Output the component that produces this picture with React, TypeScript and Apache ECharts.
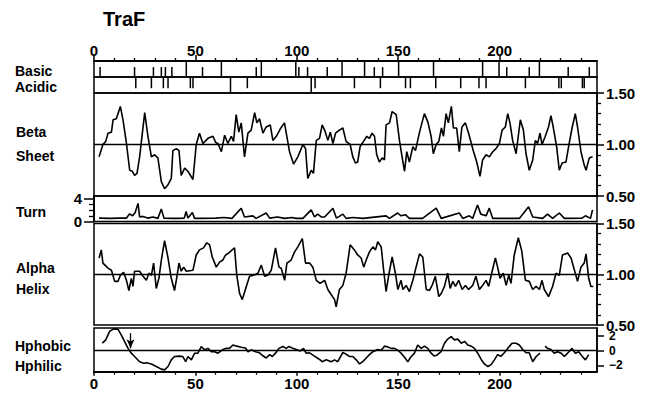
import React, { useEffect, useRef } from "react";
import * as echarts from "echarts";

// ---------- data (residue position, value) ----------
const basicShort = [3, 20, 29.3, 33.2, 35.2, 38.4, 53.5, 80, 101, 105.3, 115, 138.2, 142.3, 203.5, 214.6, 233.8, 244.2];
const basicTall = [45.5, 62.8, 82.5, 99.5, 122.3, 133.4, 150.2, 167.4, 191.6, 199.7, 219.6];
const acidicShort = [20.6, 28.3, 34.2, 36.5, 47.5, 48.8, 75.6, 109, 128.4, 141.2, 153.6, 156, 168.5, 180.8, 189.8, 193.3, 212.7, 229.2, 230.4, 240.8, 241.7];
const acidicTall = [67.3, 107.1];

const betaSheet = [
  [2.5, 0.88], [4.4, 1.0], [5.8, 1.03], [6.9, 1.11], [8.6, 1.12], [9.4, 1.24], [11, 1.25], [13, 1.37], [14.3, 1.24], [16, 1.01],
  [17.6, 0.75], [18.9, 0.74], [20, 0.7], [21.2, 0.72], [22.5, 0.88], [25, 1.31], [26.6, 1.08], [28.3, 0.88], [29.9, 0.9], [31.5, 0.87],
  [33.2, 0.64], [34.8, 0.57], [36.5, 0.61], [38.1, 0.67], [38.9, 0.94], [40.6, 0.96], [41.9, 0.94], [43, 0.7], [44.7, 0.77], [46.3, 0.74],
  [48.8, 0.66], [50.4, 1.0], [52, 1.11], [53.7, 1.01], [56.2, 1.06], [58.6, 1.08], [60, 1.02], [61.1, 1.01], [62.8, 0.93], [64.4, 1.09],
  [66, 1.01], [67.7, 1.08], [68.8, 1.03], [70.1, 1.29], [71.4, 1.12], [72.6, 1.21], [74.2, 0.88], [75.9, 1.11], [77.5, 1.14], [79.2, 1.31],
  [80.3, 1.21], [81.6, 1.25], [83.3, 1.11], [84.9, 1.17], [86.9, 1.19], [88.2, 1.04], [89.9, 1.08], [91.8, 1.15], [93.9, 1.21], [96.4, 0.93],
  [98.4, 0.81], [100.5, 0.88], [103, 1.0], [104.3, 0.96], [105.4, 0.67], [107.1, 0.75], [108.2, 0.72], [109.6, 1.04], [111.2, 1.06], [112.5, 1.19],
  [113.7, 1.14], [115.3, 1.04], [116.5, 1.12], [117.8, 1.01], [119.1, 1.11], [121, 1.14], [122.7, 1.16], [124.3, 1.03], [126.3, 1.0], [127.6, 0.88],
  [128.9, 0.82], [130, 0.83], [131.2, 0.98], [132.9, 1.03], [134.5, 1.08], [135.8, 1.06], [137.1, 1.11], [138.3, 1.08], [139.4, 0.9], [140.7, 0.83],
  [142.1, 0.87], [143.2, 0.85], [144, 1.19], [145.7, 1.21], [147, 1.32], [149, 1.29], [150.6, 1.04], [151.9, 0.88], [153.1, 0.74], [154.2, 0.93],
  [155.5, 0.83], [157.2, 0.98], [158.5, 0.94], [160.5, 1.12], [162.9, 1.3], [164.6, 1.22], [166.2, 1.08], [167.3, 0.91], [168.7, 1.0], [170, 1.03],
  [171.3, 1.16], [172.3, 1.08], [173.6, 1.3], [174.7, 1.21], [176.2, 1.37], [177.2, 1.16], [178.8, 1.16], [180.1, 0.93], [181.4, 1.17], [183.1, 1.21],
  [184.7, 1.11], [187, 0.94], [188.7, 0.83], [190.3, 0.69], [191.6, 0.85], [193.3, 0.9], [194.9, 0.88], [196.6, 0.93], [198.2, 0.96], [199.9, 1.01],
  [201.2, 1.14], [202.8, 1.17], [204, 1.3], [205.1, 1.21], [206.4, 1.04], [208.1, 0.91], [210.2, 1.24], [211.7, 1.14], [213, 0.91], [214.6, 0.75],
  [216.3, 0.85], [217.6, 1.04], [218.7, 1.01], [219.9, 1.11], [220.9, 1.0], [222.5, 1.08], [224.1, 1.17], [225.3, 1.28], [226.5, 1.16], [228.1, 0.98],
  [229.4, 0.75], [230.8, 0.82], [232.7, 0.83], [234, 0.98], [235.7, 1.16], [237.3, 1.3], [238.4, 1.17], [240.1, 0.93], [241.7, 0.8], [242.6, 0.75],
  [244.2, 0.87], [245.8, 0.88],
];

const turn = [
  [2.5, 0.6], [8, 0.55], [12, 0.6], [16, 0.6], [17.6, 1.35], [19, 1.0], [20.3, 1.6], [21.7, 3.2], [22.5, 0.8], [24, 0.9],
  [26.6, 0.6], [29, 0.8], [31.5, 0.55], [33.2, 2.2], [34.5, 0.6], [40, 0.55], [44.5, 0.6], [45.4, 1.75], [46.3, 0.6], [48.5, 1.6],
  [49.6, 0.55], [60, 0.6], [64, 0.7], [68, 0.55], [72.6, 2.35], [74.2, 0.8], [78.3, 1.0], [79.9, 0.55], [84.9, 1.5], [86.6, 0.6],
  [90.5, 0.8], [93.9, 0.55], [97.7, 0.7], [99.5, 0.55], [103, 0.55], [107.1, 2.05], [108.7, 0.8], [110.3, 1.3], [112, 0.8], [113.7, 0.8],
  [117.8, 2.35], [119.5, 0.6], [122.7, 1.3], [124.3, 0.55], [127.6, 0.7], [132.5, 0.55], [144, 1.0], [145.7, 0.55], [149.7, 1.5], [151.4, 1.0],
  [153.5, 1.2], [155.5, 0.55], [162, 0.55], [168.7, 2.35], [171.2, 0.55], [180.1, 1.5], [181.8, 0.55], [185, 1.0], [186.7, 0.55], [189.1, 2.9],
  [190.7, 1.3], [193.3, 1.0], [194.9, 2.35], [196.6, 0.55], [209.7, 0.55], [214.3, 2.6], [216.3, 0.8], [221.2, 0.55], [223.6, 1.3], [226.1, 0.55],
  [229.4, 1.5], [231.9, 0.55], [240.6, 0.6], [242.3, 1.0], [244.8, 0.55], [245.8, 2.05],
];

const alphaHelix = [
  [2.5, 1.16], [3.6, 1.24], [4.4, 1.11], [6.9, 1.06], [8.6, 1.04], [10.2, 0.93], [11.8, 0.93], [13, 0.99], [14.6, 1.02], [16, 0.94],
  [17.2, 0.84], [18.4, 0.96], [19.2, 0.88], [20, 1.03], [22.5, 1.03], [23.8, 0.99], [25.8, 0.94], [27.1, 1.01], [28.3, 0.99], [29.4, 1.11],
  [30.7, 0.86], [32, 0.96], [33.2, 1.14], [34.8, 1.33], [36.5, 1.16], [38.1, 0.96], [39.7, 0.84], [40.9, 0.98], [41.9, 1.11], [43, 1.03],
  [44.2, 1.07], [45.5, 1.03], [48.8, 1.04], [50.4, 1.19], [52, 1.24], [54, 1.26], [55.6, 1.31], [57, 1.29], [58.3, 1.17], [60.3, 1.07],
  [61.9, 1.12], [63.5, 1.14], [64.9, 1.19], [66.5, 1.21], [68.1, 1.24], [69.3, 1.26], [70.4, 0.99], [71.8, 0.81], [73.1, 0.75], [75.1, 0.88],
  [76.7, 0.98], [78.7, 0.99], [80.8, 1.01], [82.5, 1.09], [84.1, 0.98], [85.7, 0.99], [87.4, 1.04], [89.5, 1.26], [91.2, 1.07], [92.3, 1.06],
  [94, 0.94], [95.1, 1.11], [97.2, 1.14], [98.9, 1.22], [100.5, 1.27], [102.7, 1.35], [104.3, 1.11], [106.3, 1.11], [107.9, 1.07], [109.6, 0.94],
  [111.5, 0.91], [113.7, 0.94], [115.3, 0.85], [116.9, 0.8], [118.6, 0.75], [119.4, 0.68], [121, 0.85], [122.7, 0.89], [124.3, 1.01], [126.3, 1.29],
  [128.4, 1.24], [130, 1.19], [131.7, 1.16], [133, 1.07], [134.2, 1.14], [135.8, 1.22], [137.5, 1.27], [138.8, 1.24], [139.9, 1.32], [141.6, 1.27],
  [142.7, 1.06], [144, 0.83], [145.3, 0.99], [147, 1.17], [148.6, 1.01], [149.8, 0.85], [151.4, 0.94], [152.3, 0.85], [153.9, 0.89], [155.5, 0.83],
  [157.2, 0.94], [158.8, 1.07], [160.5, 1.2], [162.1, 1.17], [163.8, 0.85], [165.4, 0.84], [166.7, 0.89], [168.3, 0.98], [170, 0.78], [171.2, 0.81],
  [172.8, 0.88], [174.4, 1.01], [175.6, 0.86], [176.9, 0.93], [178.2, 0.88], [179.8, 0.94], [181.5, 0.85], [183.1, 0.89], [184.7, 0.85], [186.7, 0.89],
  [188.3, 0.98], [190, 0.85], [191.6, 0.89], [193.3, 0.94], [194.6, 0.88], [196.3, 1.03], [197.9, 1.16], [199, 1.07], [200.2, 0.96], [201.8, 1.01],
  [203.2, 0.89], [204.5, 0.99], [205.6, 0.91], [207.2, 1.19], [209.2, 1.36], [210.9, 1.23], [212.7, 0.94], [214.6, 0.93], [216.3, 0.85], [218, 0.88],
  [219.6, 0.85], [220.9, 0.94], [222, 0.85], [224.1, 0.78], [226.1, 0.88], [227.8, 1.01], [229.4, 0.99], [231, 1.19], [233.5, 1.21], [235.2, 1.16],
  [237.3, 1.01], [238.4, 0.93], [240.1, 1.07], [241.7, 1.11], [242.6, 1.2], [243.9, 0.96], [245, 0.88], [246.2, 0.88],
];

const hydropathy = [
  [4.1, 1.0], [5.8, 1.45], [7.7, 2.6], [9.4, 2.9], [11.8, 2.9], [13.5, 2.1], [15.1, 1.2], [16.8, 0.3], [18.4, -0.35], [20, -0.8],
  [22.5, -1.5], [24.5, -1.7], [25.8, -1.65], [28.3, -1.8], [30.7, -2.15], [33.2, -2.5], [34.8, -2.6], [36.5, -2.15], [38.1, -1.25], [39.7, -0.8],
  [42.2, -0.75], [43.8, -0.8], [45.2, -1.5], [46.3, -0.8], [48, -1.25], [49.6, -0.35], [51.2, -0.35], [52.9, 0.55], [54.5, 0.1], [56.2, 0.3],
  [57.8, -0.15], [59.5, -0.15], [61.1, -0.35], [63.3, 0.1], [65.2, 0.3], [66.8, 0.3], [68.5, 0.75], [70.4, 0.6], [72.6, 0.45], [74.7, 0.35],
  [75.9, -0.15], [77.5, 0.1], [79.7, -0.15], [81.6, -0.3], [83.3, -0.7], [84.9, -1.0], [86.6, -0.55], [87.9, -0.8], [89.5, -0.35], [91.2, 0.3],
  [93.1, 0.55], [94.8, 0.3], [96.1, 0.55], [98.1, 0.3], [99.7, 0.15], [101.7, -0.05], [103.3, 0.3], [104.6, -0.35], [106.3, -0.3], [108.7, -0.75],
  [111.2, -1.2], [112.5, -1.5], [114.5, -1.25], [116.9, -1.5], [118.6, -1.25], [120.2, -1.5], [121.4, -0.9], [122.7, -0.25], [124, -0.45], [126, -0.8],
  [127.6, -0.8], [129.3, -1.25], [130.9, -1.8], [132.5, -1.5], [134.2, -1.0], [135.8, -0.55], [137.5, -0.15], [139.9, 0.15], [141.6, 0.05], [143.2, 0.6],
  [144.8, 0.5], [146.6, 0.3], [148.2, 0.3], [149.8, 0.05], [151.4, -0.35], [153.1, -0.9], [154.7, -1.5], [156.4, -0.8], [158, -0.35], [159.6, 0.75],
  [161.3, 0.3], [162.9, 0.6], [164.6, 0.3], [166.2, -0.35], [167.8, -0.75], [169.4, -0.55], [171.1, -0.15], [172.8, 1.0], [174.4, 1.55], [176.1, 1.9],
  [177.7, 1.45], [179.4, 1.55], [181.1, 1.0], [182.7, 1.25], [184.3, 0.75], [186, 0.6], [187.6, 0.3], [189.2, -0.35], [190.9, -1.2], [192.5, -1.8],
  [194.2, -2.15], [195.8, -1.9], [197.4, -1.25], [199, -0.55], [200.7, -0.75], [202.3, -0.3], [204, 0.3], [206.1, 1.0], [208.1, 1.0], [209.7, 0.75],
  [211.4, 0.15], [213, -0.3], [214.6, -0.3], [216.3, -1.5], [218, -0.8], [219.9, -0.35], [221, null], [222.4, 0.6], [223.6, 0.3], [225.3, 0.15],
  [226.9, -0.35], [228.6, -0.15], [230.3, -0.35], [231.9, -0.8], [233.5, -0.35], [235.7, 0.3], [237.3, -0.35], [239, -0.15], [240.6, -0.75], [242.3, -1.25],
  [243.9, -0.55],
];

const arrowAt = 18;

const xLabels = [0, 50, 100, 150, 200];
const xMinorTicks = [10, 20, 30, 40, 60, 70, 80, 90, 110, 120, 130, 140, 160, 170, 180, 190, 210, 220, 230, 240];
const turnLabels = [0, 4];
const turnMinorTicks = [1, 2, 3];
const hydroLabels = [-2, 0, 2];

const FONT = '"Liberation Sans", Arial, Helvetica, sans-serif';
const BLACK = "#000";

export default function App() {
  const ref = useRef<HTMLDivElement>(null);

  useEffect(() => {
    if (!ref.current) return;
    const chart = echarts.init(ref.current, undefined, { renderer: "svg" });

    const L = 94;
    const W = 503;
    const XMAX = 248;
    const gridBase = {
      left: L, width: W, show: true, borderColor: BLACK, borderWidth: 1.5, backgroundColor: "transparent",
    };
    const grids = [
      { ...gridBase, top: 61, height: 16 },
      { ...gridBase, top: 77, height: 16 },
      { ...gridBase, top: 93, height: 103 },
      { ...gridBase, top: 196, height: 25.5 },
      { ...gridBase, top: 223.5, height: 101.5 },
      { ...gridBase, top: 328, height: 43.7 },
    ];

    const hiddenX = (gi: number) => ({ type: "value", gridIndex: gi, min: 0, max: XMAX, show: false });
    const axLine = { show: true, onZero: false, lineStyle: { color: BLACK, width: 1.5 } };
    const labelStyle = { color: BLACK, fontFamily: FONT, fontWeight: "bold", fontSize: 15 };

    const xAxes = [
      {
        type: "value", gridIndex: 0, min: 0, max: XMAX, position: "top",
        axisLine: axLine,
        axisTick: { show: true, inside: false, length: 6, customValues: xLabels, lineStyle: { color: BLACK, width: 1.5 } },
        axisLabel: { show: true, customValues: xLabels, margin: 3, ...labelStyle },
        splitLine: { show: false },
      },
      {
        type: "value", gridIndex: 0, min: 0, max: XMAX, position: "top",
        axisLine: axLine,
        axisTick: { show: true, inside: false, length: 3, customValues: xMinorTicks, lineStyle: { color: BLACK, width: 1.3 } },
        axisLabel: { show: false },
        splitLine: { show: false },
      },
      hiddenX(1),
      hiddenX(2),
      hiddenX(3),
      hiddenX(4),
      {
        type: "value", gridIndex: 5, min: 0, max: XMAX, position: "bottom",
        axisLine: axLine,
        axisTick: { show: true, inside: false, length: 4, customValues: xLabels, lineStyle: { color: BLACK, width: 1.5 } },
        axisLabel: { show: true, customValues: xLabels, margin: 4, ...labelStyle },
        splitLine: { show: false },
      },
      {
        type: "value", gridIndex: 5, min: 0, max: XMAX, position: "bottom",
        axisLine: axLine,
        axisTick: { show: true, inside: false, length: 3, customValues: xMinorTicks, lineStyle: { color: BLACK, width: 1.3 } },
        axisLabel: { show: false },
        splitLine: { show: false },
      },
    ];

    const propensityAxis = (gi: number) => ({
      type: "value", gridIndex: gi, position: "right", min: 0.5, max: 1.5, interval: 0.5,
      axisLine: axLine,
      axisTick: { show: true, inside: false, length: 7, lineStyle: { color: BLACK, width: 1.5 } },
      minorTick: { show: true, splitNumber: 5, length: 4, lineStyle: { color: BLACK, width: 1.3 } },
      axisLabel: { show: true, margin: 9, lineHeight: 12, formatter: (v: number) => v.toFixed(2), ...labelStyle },
      splitLine: { show: false },
      minorSplitLine: { show: false },
    });

    const yAxes = [
      { type: "value", gridIndex: 0, min: 0, max: 1, show: false },
      { type: "value", gridIndex: 1, min: 0, max: 1, inverse: true, show: false },
      propensityAxis(2),
      {
        type: "value", gridIndex: 3, position: "left", min: 0, max: 4.5,
        axisLine: axLine,
        axisTick: { show: true, inside: false, length: 10, customValues: turnLabels, lineStyle: { color: BLACK, width: 1.5 } },
        axisLabel: { show: true, customValues: turnLabels, margin: 12, lineHeight: 12, ...labelStyle },
        splitLine: { show: false },
      },
      {
        type: "value", gridIndex: 3, position: "left", min: 0, max: 4.5,
        axisLine: axLine,
        axisTick: { show: true, inside: false, length: 5, customValues: turnMinorTicks, lineStyle: { color: BLACK, width: 1.3 } },
        axisLabel: { show: false },
        splitLine: { show: false },
      },
      propensityAxis(4),
      {
        type: "value", gridIndex: 5, position: "right", min: -2.85, max: 3.05,
        axisLine: axLine,
        axisTick: { show: true, inside: false, length: 7, customValues: hydroLabels, lineStyle: { color: BLACK, width: 1.5 } },
        axisLabel: {
          show: true, customValues: hydroLabels, margin: 12, ...labelStyle, fontSize: 12, lineHeight: 10,
          formatter: (v: number) => (v < 0 ? "\u2212" + Math.abs(v) : String(v)),
        },
        splitLine: { show: false },
      },
    ];

    const tickRenderer = (params: any, api: any) => {
      const x = api.value(0);
      const len = api.value(1);
      const p0 = api.coord([x, 0]);
      const p1 = api.coord([x, len]);
      return {
        type: "line",
        shape: { x1: p0[0], y1: p0[1], x2: p1[0], y2: p1[1] },
        style: { stroke: BLACK, lineWidth: 1.5 },
      };
    };

    const basicData = [...basicShort.map((p) => [p, 0.62]), ...basicTall.map((p) => [p, 1])];
    const acidicData = [...acidicShort.map((p) => [p, 0.7]), ...acidicTall.map((p) => [p, 1])];

    const lineStyle = { color: BLACK, width: 1.6 };
    const refLine = (v: number) => ({
      silent: true, symbol: ["none", "none"], label: { show: false },
      lineStyle: { color: BLACK, width: 1.3, type: "solid" },
      data: [{ yAxis: v }],
    });

    const series: any[] = [
      { type: "custom", xAxisIndex: 0, yAxisIndex: 0, data: basicData, renderItem: tickRenderer, silent: true },
      { type: "custom", xAxisIndex: 2, yAxisIndex: 1, data: acidicData, renderItem: tickRenderer, silent: true },
      {
        type: "line", xAxisIndex: 3, yAxisIndex: 2, data: betaSheet, showSymbol: false, symbol: "none",
        lineStyle, markLine: refLine(1),
      },
      { type: "line", xAxisIndex: 4, yAxisIndex: 3, data: turn, showSymbol: false, symbol: "none", lineStyle },
      {
        type: "line", xAxisIndex: 5, yAxisIndex: 5, data: alphaHelix, showSymbol: false, symbol: "none",
        lineStyle, markLine: refLine(1),
      },
      {
        type: "line", xAxisIndex: 6, yAxisIndex: 6,
        data: hydropathy.map((d) => (d[1] === null ? [d[0], "-"] : d)),
        showSymbol: false, symbol: "none", connectNulls: false, lineStyle,
        markLine: {
          silent: true, symbol: ["none", "none"], label: { show: false },
          lineStyle: { color: BLACK, width: 1.3, type: "solid" },
          data: [
            { yAxis: 0 },
            [
              { coord: [arrowAt, 2.35], symbol: "none" },
              { coord: [arrowAt, 0.3], symbol: "arrow", symbolSize: [6, 9] },
            ],
          ],
        },
      },
    ];

    const textEl = (text: string, x: number, y: number, size = 14) => ({
      type: "text", x, y, silent: true,
      style: {
        text, fill: BLACK, font: `bold ${size}px ${FONT}`,
        verticalAlign: "middle", textVerticalAlign: "middle", align: "left",
      },
    });

    chart.setOption({
      animation: false,
      backgroundColor: "#fff",
      grid: grids,
      xAxis: xAxes,
      yAxis: yAxes,
      series,
      graphic: [
        textEl("TraF", 103, 18.5, 20),
        textEl("Basic", 15, 71),
        textEl("Acidic", 15, 86.5),
        textEl("Beta", 16, 132),
        textEl("Sheet", 16, 155.5),
        textEl("Turn", 16, 212),
        textEl("Alpha", 16, 267.5),
        textEl("Helix", 16, 289),
        textEl("Hphobic", 15, 345.5),
        textEl("Hphilic", 15, 366),
      ],
    });

    return () => chart.dispose();
  }, []);

  return (
    <div
      ref={ref}
      style={{ position: "fixed", left: 0, top: 0, width: 654, height: 394, background: "#fff" }}
    />
  );
}
